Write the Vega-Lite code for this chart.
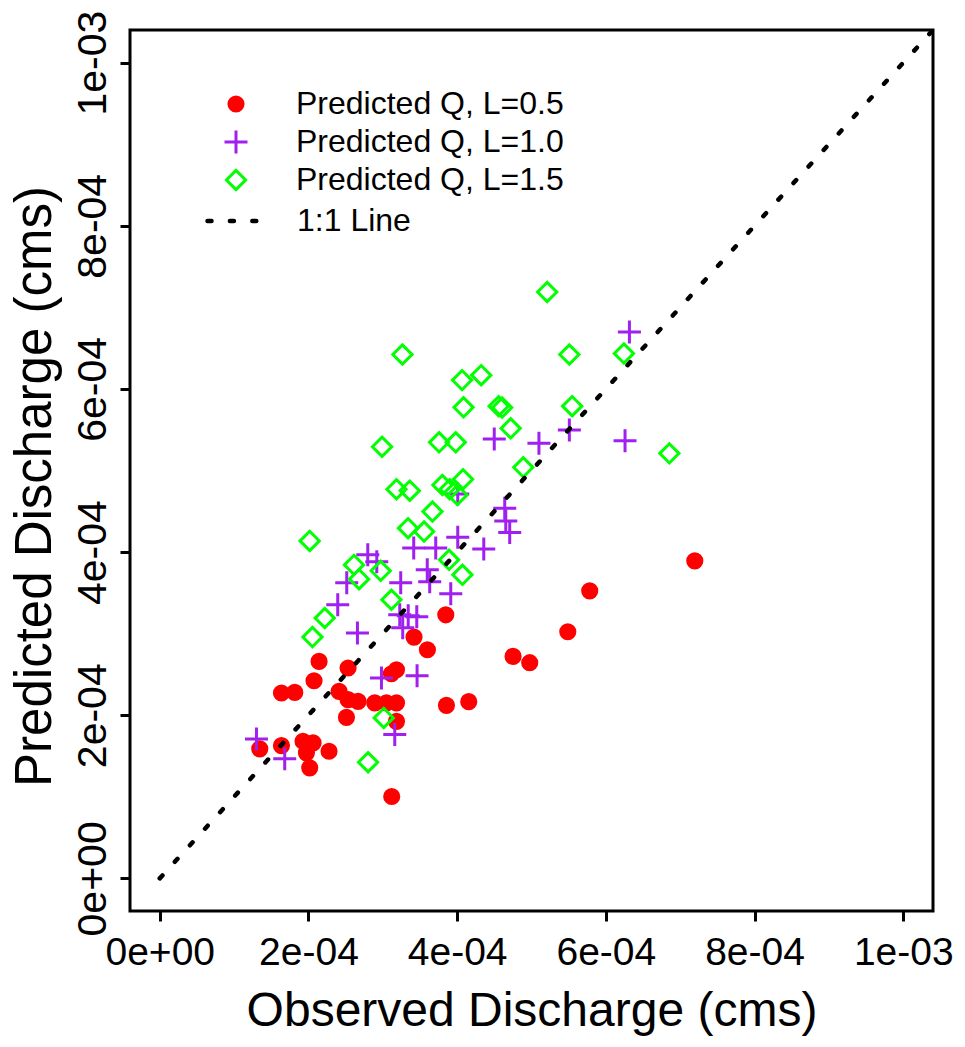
{
  "$schema": "https://vega.github.io/schema/vega-lite/v6.json",
  "width": 803,
  "height": 881,
  "autosize": {"type": "none"},
  "padding": {"left": 130, "top": 30, "right": 32, "bottom": 136},
  "background": "white",
  "config": {
    "font": "Liberation Sans",
    "view": {"stroke": "black", "strokeWidth": 3},
    "axis": {
      "grid": false, "domain": false, "tickColor": "black", "tickWidth": 3, "tickSize": 10,
      "labelFont": "Liberation Sans", "labelFontSize": 39, "labelColor": "black",
      "labelOverlap": false, "labelFlush": false, "labelBound": false,
      "titleFont": "Liberation Sans", "titleFontSize": 48, "titleFontWeight": "normal", "titleColor": "black"
    },
    "legend": {"labelFont": "Liberation Sans", "labelFontSize": 32, "labelColor": "black", "padding": 0, "labelLimit": 0}
  },
  "datasets": {
    "pts": [
      {"series": "Predicted Q, L=0.5", "obs": 0.0007196, "pred": 0.0003892},
      {"series": "Predicted Q, L=0.5", "obs": 0.0005783, "pred": 0.0003525},
      {"series": "Predicted Q, L=0.5", "obs": 0.0005488, "pred": 0.0003023},
      {"series": "Predicted Q, L=0.5", "obs": 0.0004752, "pred": 0.0002721},
      {"series": "Predicted Q, L=0.5", "obs": 0.0004976, "pred": 0.0002644},
      {"series": "Predicted Q, L=0.5", "obs": 0.0004156, "pred": 0.0002166},
      {"series": "Predicted Q, L=0.5", "obs": 0.0003856, "pred": 0.0002121},
      {"series": "Predicted Q, L=0.5", "obs": 0.0003847, "pred": 0.0003231},
      {"series": "Predicted Q, L=0.5", "obs": 0.0003420, "pred": 0.0002958},
      {"series": "Predicted Q, L=0.5", "obs": 0.0003600, "pred": 0.0002803},
      {"series": "Predicted Q, L=0.5", "obs": 0.0003120, "pred": 0.0001004},
      {"series": "Predicted Q, L=0.5", "obs": 0.0002143, "pred": 0.0002660},
      {"series": "Predicted Q, L=0.5", "obs": 0.0002533, "pred": 0.0002579},
      {"series": "Predicted Q, L=0.5", "obs": 0.0003184, "pred": 0.0002558},
      {"series": "Predicted Q, L=0.5", "obs": 0.0003116, "pred": 0.0002509},
      {"series": "Predicted Q, L=0.5", "obs": 0.0002075, "pred": 0.0002423},
      {"series": "Predicted Q, L=0.5", "obs": 0.0001637, "pred": 0.0002273},
      {"series": "Predicted Q, L=0.5", "obs": 0.0001816, "pred": 0.0002280},
      {"series": "Predicted Q, L=0.5", "obs": 0.0002412, "pred": 0.0002293},
      {"series": "Predicted Q, L=0.5", "obs": 0.0002533, "pred": 0.0002191},
      {"series": "Predicted Q, L=0.5", "obs": 0.0002667, "pred": 0.0002170},
      {"series": "Predicted Q, L=0.5", "obs": 0.0002892, "pred": 0.0002151},
      {"series": "Predicted Q, L=0.5", "obs": 0.0003049, "pred": 0.0002151},
      {"series": "Predicted Q, L=0.5", "obs": 0.0003184, "pred": 0.0002151},
      {"series": "Predicted Q, L=0.5", "obs": 0.0002511, "pred": 0.0001974},
      {"series": "Predicted Q, L=0.5", "obs": 0.0003184, "pred": 0.0001925},
      {"series": "Predicted Q, L=0.5", "obs": 0.0001927, "pred": 0.0001681},
      {"series": "Predicted Q, L=0.5", "obs": 0.0002062, "pred": 0.0001661},
      {"series": "Predicted Q, L=0.5", "obs": 0.0001973, "pred": 0.0001539},
      {"series": "Predicted Q, L=0.5", "obs": 0.0002017, "pred": 0.0001355},
      {"series": "Predicted Q, L=0.5", "obs": 0.0002277, "pred": 0.0001558},
      {"series": "Predicted Q, L=0.5", "obs": 0.0001637, "pred": 0.0001628},
      {"series": "Predicted Q, L=0.5", "obs": 0.0001345, "pred": 0.0001587},
      {"series": "Predicted Q, L=1.0", "obs": 0.0006317, "pred": 0.0006699},
      {"series": "Predicted Q, L=1.0", "obs": 0.0006258, "pred": 0.0005365},
      {"series": "Predicted Q, L=1.0", "obs": 0.0005509, "pred": 0.0005496},
      {"series": "Predicted Q, L=1.0", "obs": 0.0005100, "pred": 0.0005333},
      {"series": "Predicted Q, L=1.0", "obs": 0.0004499, "pred": 0.0005386},
      {"series": "Predicted Q, L=1.0", "obs": 0.0004008, "pred": 0.0004712},
      {"series": "Predicted Q, L=1.0", "obs": 0.0004640, "pred": 0.0004537},
      {"series": "Predicted Q, L=1.0", "obs": 0.0004654, "pred": 0.0004382},
      {"series": "Predicted Q, L=1.0", "obs": 0.0004707, "pred": 0.0004239},
      {"series": "Predicted Q, L=1.0", "obs": 0.0004008, "pred": 0.0004182},
      {"series": "Predicted Q, L=1.0", "obs": 0.0003416, "pred": 0.0004051},
      {"series": "Predicted Q, L=1.0", "obs": 0.0003712, "pred": 0.0004051},
      {"series": "Predicted Q, L=1.0", "obs": 0.0004358, "pred": 0.0004039},
      {"series": "Predicted Q, L=1.0", "obs": 0.0003598, "pred": 0.0003782},
      {"series": "Predicted Q, L=1.0", "obs": 0.0003241, "pred": 0.0003623},
      {"series": "Predicted Q, L=1.0", "obs": 0.0003631, "pred": 0.0003635},
      {"series": "Predicted Q, L=1.0", "obs": 0.0003914, "pred": 0.0003488},
      {"series": "Predicted Q, L=1.0", "obs": 0.0003228, "pred": 0.0003231},
      {"series": "Predicted Q, L=1.0", "obs": 0.0003342, "pred": 0.0003219},
      {"series": "Predicted Q, L=1.0", "obs": 0.0003457, "pred": 0.0003207},
      {"series": "Predicted Q, L=1.0", "obs": 0.0003268, "pred": 0.0003072},
      {"series": "Predicted Q, L=1.0", "obs": 0.0002798, "pred": 0.0003966},
      {"series": "Predicted Q, L=1.0", "obs": 0.0002919, "pred": 0.0003880},
      {"series": "Predicted Q, L=1.0", "obs": 0.0002515, "pred": 0.0003623},
      {"series": "Predicted Q, L=1.0", "obs": 0.0002394, "pred": 0.0003354},
      {"series": "Predicted Q, L=1.0", "obs": 0.0002659, "pred": 0.0003007},
      {"series": "Predicted Q, L=1.0", "obs": 0.0002982, "pred": 0.0002457},
      {"series": "Predicted Q, L=1.0", "obs": 0.0003461, "pred": 0.0002485},
      {"series": "Predicted Q, L=1.0", "obs": 0.0003161, "pred": 0.0001763},
      {"series": "Predicted Q, L=1.0", "obs": 0.0001301, "pred": 0.0001710},
      {"series": "Predicted Q, L=1.0", "obs": 0.0001681, "pred": 0.0001465},
      {"series": "Predicted Q, L=1.5", "obs": 0.0005211, "pred": 0.0007188},
      {"series": "Predicted Q, L=1.5", "obs": 0.0005509, "pred": 0.0006422},
      {"series": "Predicted Q, L=1.5", "obs": 0.0006243, "pred": 0.0006434},
      {"series": "Predicted Q, L=1.5", "obs": 0.0005547, "pred": 0.0005789},
      {"series": "Predicted Q, L=1.5", "obs": 0.0006854, "pred": 0.0005210},
      {"series": "Predicted Q, L=1.5", "obs": 0.0004889, "pred": 0.0005039},
      {"series": "Predicted Q, L=1.5", "obs": 0.0004720, "pred": 0.0005517},
      {"series": "Predicted Q, L=1.5", "obs": 0.0004559, "pred": 0.0005789},
      {"series": "Predicted Q, L=1.5", "obs": 0.0004605, "pred": 0.0005771},
      {"series": "Predicted Q, L=1.5", "obs": 0.0004086, "pred": 0.0005774},
      {"series": "Predicted Q, L=1.5", "obs": 0.0004066, "pred": 0.0006108},
      {"series": "Predicted Q, L=1.5", "obs": 0.0004324, "pred": 0.0006169},
      {"series": "Predicted Q, L=1.5", "obs": 0.0003264, "pred": 0.0006422},
      {"series": "Predicted Q, L=1.5", "obs": 0.0002990, "pred": 0.0005291},
      {"series": "Predicted Q, L=1.5", "obs": 0.0003757, "pred": 0.0005345},
      {"series": "Predicted Q, L=1.5", "obs": 0.0003981, "pred": 0.0005345},
      {"series": "Predicted Q, L=1.5", "obs": 0.0003184, "pred": 0.0004770},
      {"series": "Predicted Q, L=1.5", "obs": 0.0003363, "pred": 0.0004753},
      {"series": "Predicted Q, L=1.5", "obs": 0.0003802, "pred": 0.0004822},
      {"series": "Predicted Q, L=1.5", "obs": 0.0004079, "pred": 0.0004892},
      {"series": "Predicted Q, L=1.5", "obs": 0.0003900, "pred": 0.0004770},
      {"series": "Predicted Q, L=1.5", "obs": 0.0004004, "pred": 0.0004700},
      {"series": "Predicted Q, L=1.5", "obs": 0.0003668, "pred": 0.0004496},
      {"series": "Predicted Q, L=1.5", "obs": 0.0003340, "pred": 0.0004293},
      {"series": "Predicted Q, L=1.5", "obs": 0.0003555, "pred": 0.0004251},
      {"series": "Predicted Q, L=1.5", "obs": 0.0002017, "pred": 0.0004137},
      {"series": "Predicted Q, L=1.5", "obs": 0.0003891, "pred": 0.0003905},
      {"series": "Predicted Q, L=1.5", "obs": 0.0004071, "pred": 0.0003721},
      {"series": "Predicted Q, L=1.5", "obs": 0.0002613, "pred": 0.0003843},
      {"series": "Predicted Q, L=1.5", "obs": 0.0002681, "pred": 0.0003668},
      {"series": "Predicted Q, L=1.5", "obs": 0.0002972, "pred": 0.0003770},
      {"series": "Predicted Q, L=1.5", "obs": 0.0003116, "pred": 0.0003415},
      {"series": "Predicted Q, L=1.5", "obs": 0.0002219, "pred": 0.0003191},
      {"series": "Predicted Q, L=1.5", "obs": 0.0002054, "pred": 0.0002958},
      {"series": "Predicted Q, L=1.5", "obs": 0.0003013, "pred": 0.0001967},
      {"series": "Predicted Q, L=1.5", "obs": 0.0002802, "pred": 0.0001424}
    ],
    "line": [
      {"type": "1:1 Line", "obs": 0, "pred": 0},
      {"type": "1:1 Line", "obs": 0.00104, "pred": 0.00104}
    ]
  },
  "layer": [
    {
      "data": {"name": "pts"},
      "mark": {"type": "point", "opacity": 1, "strokeWidth": 3},
      "encoding": {
        "x": {
          "field": "obs", "type": "quantitative",
          "scale": {"domain": [-0.00004, 0.00104], "nice": false, "zero": false},
          "axis": {
            "values": [0, 0.0002, 0.0004, 0.0006, 0.0008, 0.001],
            "labelExpr": "datum.value == 0 ? '0e+00' : datum.value > 0.0009 ? '1e-03' : format(round(datum.value * 10000), 'd') + 'e-04'",
            "labelBaseline": "alphabetic", "labelPadding": 43,
            "title": "Observed Discharge (cms)", "titleBaseline": "alphabetic", "titleY": 114
          }
        },
        "y": {
          "field": "pred", "type": "quantitative",
          "scale": {"domain": [-0.00004, 0.00104], "nice": false, "zero": false},
          "axis": {
            "values": [0, 0.0002, 0.0004, 0.0006, 0.0008, 0.001],
            "labelExpr": "datum.value == 0 ? '0e+00' : datum.value > 0.0009 ? '1e-03' : format(round(datum.value * 10000), 'd') + 'e-04'",
            "labelAngle": -90, "labelAlign": "center", "labelBaseline": "alphabetic", "labelPadding": 15, "labelFontSize": 41,
            "title": "Predicted Discharge (cms)", "titleAngle": -90, "titleBaseline": "alphabetic", "titleX": -80, "titleY": 456, "titleFontSize": 51
          }
        },
        "fill": {
          "field": "series", "type": "nominal",
          "scale": {"domain": ["Predicted Q, L=0.5", "Predicted Q, L=1.0", "Predicted Q, L=1.5"], "range": ["#FF0000", "transparent", "transparent"]},
          "legend": {"title": null, "orient": "none", "legendX": 90, "legendY": 58, "labelOffset": 44, "rowPadding": 6, "clipHeight": 32, "symbolStrokeWidth": 3}
        },
        "stroke": {
          "field": "series", "type": "nominal",
          "scale": {"domain": ["Predicted Q, L=0.5", "Predicted Q, L=1.0", "Predicted Q, L=1.5"], "range": ["#FF0000", "#A020F0", "#00FF00"]},
          "legend": {"title": null, "orient": "none", "legendX": 90, "legendY": 58, "labelOffset": 44, "rowPadding": 6, "clipHeight": 32, "symbolStrokeWidth": 3}
        },
        "shape": {
          "field": "series", "type": "nominal",
          "scale": {"domain": ["Predicted Q, L=0.5", "Predicted Q, L=1.0", "Predicted Q, L=1.5"], "range": ["circle", "M-1,0L1,0M0,-1L0,1", "diamond"]},
          "legend": {"title": null, "orient": "none", "legendX": 90, "legendY": 58, "labelOffset": 44, "rowPadding": 6, "clipHeight": 32, "symbolStrokeWidth": 3}
        },
        "size": {
          "field": "series", "type": "nominal",
          "scale": {"type": "ordinal", "domain": ["Predicted Q, L=0.5", "Predicted Q, L=1.0", "Predicted Q, L=1.5"], "range": [200, 529, 370]},
          "legend": {"title": null, "orient": "none", "legendX": 90, "legendY": 58, "labelOffset": 44, "rowPadding": 6, "clipHeight": 32, "symbolStrokeWidth": 3}
        }
      }
    },
    {
      "data": {"name": "line"},
      "mark": {"type": "line", "color": "black", "strokeWidth": 4.5, "strokeCap": "round", "clip": true},
      "encoding": {
        "x": {"field": "obs", "type": "quantitative"},
        "y": {"field": "pred", "type": "quantitative"},
        "strokeDash": {
          "field": "type", "type": "nominal",
          "scale": {"domain": ["1:1 Line"], "range": [[4, 18.4]]},
          "legend": {
            "title": null, "orient": "none", "legendX": 75, "legendY": 161, "labelOffset": 32,
            "symbolSize": 3025, "symbolStrokeWidth": 4.5, "symbolStrokeColor": "black",
            "encode": {"symbols": {"update": {"strokeDash": {"value": [3, 14]}, "strokeCap": {"value": "round"}}}}
          }
        }
      }
    }
  ]
}
